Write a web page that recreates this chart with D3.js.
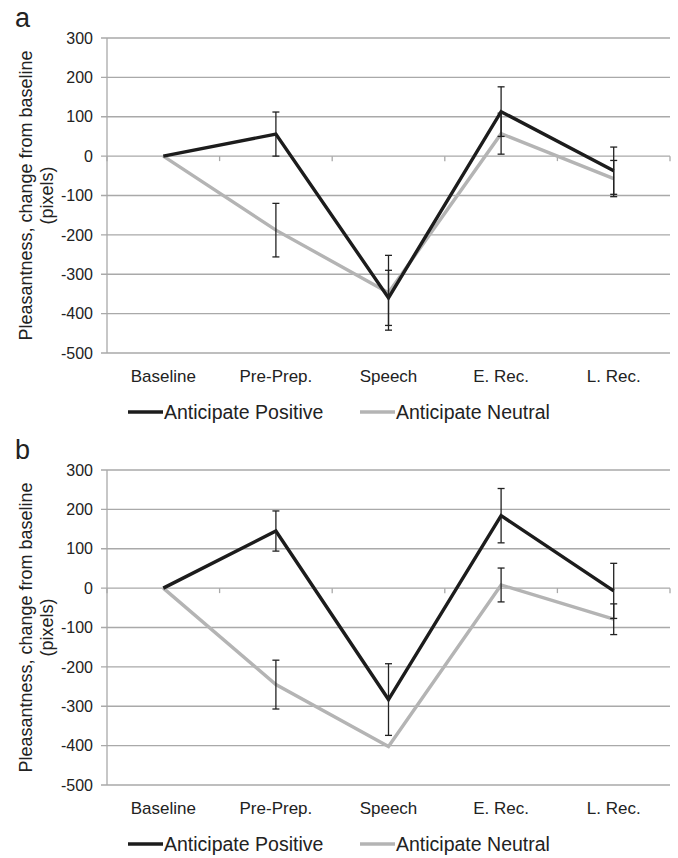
<!DOCTYPE html>
<html>
<head>
<meta charset="utf-8">
<script src="https://cdn.jsdelivr.net/npm/d3@7"></script>
<style>
  body { margin: 0; background: #fff; }
  text { font-family: "Liberation Sans", Arial, sans-serif; fill: #222; }
</style>
</head>
<body>
<div id="chart"></div>
<script>
// categories + tick values
const phases = ['Baseline', 'Pre-Prep.', 'Speech', 'E. Rec.', 'L. Rec.'];
const yTicks = [300, 200, 100, 0, -100, -200, -300, -400, -500];

// panel a
const aPositive = [0, 56, -360, 113, -37];
const aPositiveErr = [0, 56, 70, 63, 60];
const aNeutral = [0, -188, -347, 57, -57];
const aNeutralErr = [0, 68, 95, 52, 46];

// panel b
const bPositive = [0, 145, -283, 184, -7];
const bPositiveErr = [0, 51, 91, 69, 70];
const bNeutral = [0, -245, -402, 8, -79];
const bNeutralErr = [0, 62, 0, 43, 39];

const W = 678, H = 858;
const svg = d3.select('#chart').append('svg')
  .attr('width', W).attr('height', H);

const black = '#1c1c1c', grey = '#b4b4b4', gridColor = '#a9a9a9';

function drawPanel (label, top, series) {
  const left = 107, right = 670, plotH = 315;

  const x = d3.scaleBand().domain(phases).range([left, right]);
  const y = d3.scaleLinear().domain([-500, 300]).range([top + plotH, top]);

  const g = svg.append('g');

  // left tick labels (plain hyphen for negatives, like the original)
  g.append('g')
    .attr('transform', `translate(${left},0)`)
    .call(d3.axisLeft(y).tickValues(yTicks).tickSize(0).tickPadding(14)
      .tickFormat(d => String(d)))
    .call(s => s.select('.domain').remove())
    .call(s => s.selectAll('text')
      .style('font-size', '16px')
      .style('font-family', '"Liberation Sans", Arial, sans-serif')
      .attr('fill', '#222'));

  // gridlines
  g.append('g').selectAll('line')
    .data(yTicks)
    .join('line')
    .attr('x1', left - 6).attr('x2', right)
    .attr('y1', d => y(d)).attr('y2', d => y(d))
    .attr('stroke', gridColor).attr('stroke-width', 1.3);

  // left axis line
  g.append('line')
    .attr('x1', left).attr('x2', left)
    .attr('y1', y(300)).attr('y2', y(-500))
    .attr('stroke', gridColor).attr('stroke-width', 1.3);

  // category ticks below zero line
  const bounds = phases.map(p => x(p)).concat([right]);
  g.append('g').selectAll('line')
    .data(bounds)
    .join('line')
    .attr('x1', d => d).attr('x2', d => d)
    .attr('y1', y(0)).attr('y2', y(0) + 5)
    .attr('stroke', gridColor).attr('stroke-width', 1.3);

  // category labels
  g.append('g').selectAll('text')
    .data(phases)
    .join('text')
    .attr('x', d => x(d) + x.bandwidth() / 2)
    .attr('y', y(-500) + 29)
    .attr('text-anchor', 'middle')
    .style('font-size', '17px')
    .text(d => d);

  // y title
  const cy = top + plotH / 2;
  g.append('text')
    .attr('transform', `translate(32,${cy}) rotate(-90)`)
    .attr('text-anchor', 'middle')
    .style('font-size', '18px')
    .text('Pleasantness, change from baseline');
  g.append('text')
    .attr('transform', `translate(53,${cy}) rotate(-90)`)
    .attr('text-anchor', 'middle')
    .style('font-size', '18px')
    .text('(pixels)');

  // panel letter
  g.append('text')
    .attr('x', 15).attr('y', top - 11)
    .style('font-size', '27px')
    .text(label);

  const cx = d => x(d) + x.bandwidth() / 2;
  const line = d3.line().x(d => cx(d.p)).y(d => y(d.v));

  // neutral first so positive sits on top
  const order = [series[1], series[0]];
  order.forEach(s => {
    const pts = phases.map((p, i) => ({ p, v: s.values[i], e: s.err[i] }));
    g.append('path')
      .datum(pts)
      .attr('d', line)
      .attr('fill', 'none')
      .attr('stroke', s.color)
      .attr('stroke-width', 3.4)
      .attr('stroke-linejoin', 'miter');
  });

  // error bars on top
  series.forEach(s => {
    const pts = phases.map((p, i) => ({ p, v: s.values[i], e: s.err[i] }))
      .filter(d => d.e > 0);
    const eb = g.append('g').attr('stroke', '#222').attr('stroke-width', 1.3);
    eb.selectAll('.stem').data(pts).join('line')
      .attr('x1', d => cx(d.p)).attr('x2', d => cx(d.p))
      .attr('y1', d => y(d.v + d.e)).attr('y2', d => y(d.v - d.e));
    eb.selectAll('.capT').data(pts).join('line')
      .attr('x1', d => cx(d.p) - 3.5).attr('x2', d => cx(d.p) + 3.5)
      .attr('y1', d => y(d.v + d.e)).attr('y2', d => y(d.v + d.e));
    eb.selectAll('.capB').data(pts).join('line')
      .attr('x1', d => cx(d.p) - 3.5).attr('x2', d => cx(d.p) + 3.5)
      .attr('y1', d => y(d.v - d.e)).attr('y2', d => y(d.v - d.e));
  });

  // legend
  const ly = y(-500) + 59;
  const legend = [
    { name: 'Anticipate Positive', color: black, x: 128 },
    { name: 'Anticipate Neutral', color: grey, x: 360 }
  ];
  legend.forEach(l => {
    g.append('line')
      .attr('x1', l.x).attr('x2', l.x + 35)
      .attr('y1', ly).attr('y2', ly)
      .attr('stroke', l.color).attr('stroke-width', 3.4);
    g.append('text')
      .attr('x', l.x + 36).attr('y', ly + 7)
      .style('font-size', '19.5px')
      .text(l.name);
  });
}

drawPanel('a', 38, [
  { values: aPositive, err: aPositiveErr, color: black },
  { values: aNeutral, err: aNeutralErr, color: grey }
]);
drawPanel('b', 470, [
  { values: bPositive, err: bPositiveErr, color: black },
  { values: bNeutral, err: bNeutralErr, color: grey }
]);
</script>
</body>
</html>
